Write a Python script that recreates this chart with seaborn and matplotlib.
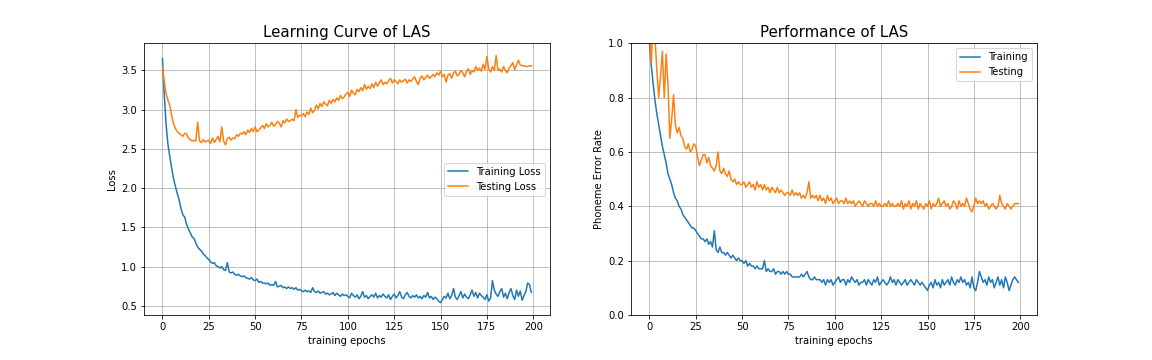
import numpy as np
import pandas as pd
import seaborn as sns
import matplotlib
matplotlib.use("Agg")
import matplotlib.pyplot as plt

# values, one per epoch (0..199)
trn_loss = [
    3.65, 3.18, 2.80, 2.55, 2.40, 2.25, 2.12, 2.02, 1.93, 1.85,
    1.74, 1.66, 1.63, 1.54, 1.48, 1.43, 1.38, 1.36, 1.30, 1.25,
    1.22, 1.20, 1.16, 1.14, 1.11, 1.09, 1.06, 1.04, 1.05, 1.01,
    1.00, 0.98, 1.00, 0.96, 0.95, 1.05, 0.93, 0.92, 0.93, 0.90,
    0.89, 0.90, 0.88, 0.87, 0.88, 0.86, 0.85, 0.84, 0.86, 0.83,
    0.82, 0.84, 0.80, 0.81, 0.79, 0.79, 0.78, 0.79, 0.76, 0.77,
    0.76, 0.81, 0.74, 0.75, 0.76, 0.73, 0.74, 0.72, 0.74, 0.72,
    0.73, 0.71, 0.73, 0.70, 0.71, 0.69, 0.68, 0.70, 0.68, 0.69,
    0.67, 0.73, 0.68, 0.67, 0.69, 0.66, 0.67, 0.68, 0.65, 0.66,
    0.64, 0.65, 0.67, 0.63, 0.66, 0.64, 0.62, 0.65, 0.63, 0.64,
    0.62, 0.60, 0.66, 0.63, 0.61, 0.64, 0.59, 0.62, 0.68, 0.61,
    0.63, 0.59, 0.62, 0.64, 0.61, 0.66, 0.60, 0.63, 0.61, 0.65,
    0.62, 0.60, 0.64, 0.58, 0.62, 0.65, 0.60, 0.63, 0.68, 0.61,
    0.59, 0.64, 0.67, 0.62, 0.60, 0.63, 0.61, 0.64, 0.60, 0.62,
    0.59, 0.63, 0.61, 0.67, 0.60, 0.62, 0.58, 0.61, 0.59, 0.56,
    0.54, 0.58, 0.62, 0.60, 0.66, 0.59, 0.63, 0.72, 0.61, 0.58,
    0.63, 0.68, 0.60, 0.65, 0.61, 0.59, 0.64, 0.70, 0.62, 0.67,
    0.60, 0.66, 0.63, 0.61, 0.58, 0.64, 0.56, 0.60, 0.82, 0.70,
    0.65, 0.62, 0.68, 0.72, 0.61, 0.66, 0.59, 0.67, 0.72, 0.63,
    0.58, 0.70, 0.62, 0.69, 0.57, 0.63, 0.68, 0.79, 0.77, 0.67,
]

tst_loss = [
    3.55, 3.35, 3.20, 3.12, 3.05, 2.92, 2.82, 2.76, 2.72, 2.70,
    2.68, 2.66, 2.70, 2.69, 2.64, 2.62, 2.60, 2.61, 2.60, 2.84,
    2.60, 2.58, 2.62, 2.59, 2.60, 2.61, 2.57, 2.64, 2.58, 2.62,
    2.66, 2.59, 2.78, 2.60, 2.55, 2.63, 2.65, 2.61, 2.64, 2.63,
    2.68, 2.66, 2.70, 2.69, 2.72, 2.68, 2.74, 2.71, 2.76, 2.72,
    2.78, 2.72, 2.74, 2.77, 2.80, 2.76, 2.82, 2.78, 2.80, 2.84,
    2.79, 2.81, 2.85, 2.83, 2.78, 2.86, 2.83, 2.88, 2.85, 2.86,
    2.88, 2.86, 3.00, 2.90, 2.93, 2.92, 2.95, 2.91, 2.97, 2.94,
    3.02, 2.96, 2.99, 3.06, 3.01, 3.08, 3.04, 3.10, 3.07, 3.05,
    3.12, 3.08, 3.13, 3.10, 3.15, 3.12, 3.18, 3.14, 3.16, 3.20,
    3.22, 3.17, 3.25, 3.21, 3.19, 3.26, 3.23, 3.28, 3.24, 3.32,
    3.26, 3.30, 3.27, 3.33, 3.28, 3.35, 3.30, 3.34, 3.38, 3.32,
    3.35, 3.33, 3.37, 3.40, 3.34, 3.38, 3.36, 3.33, 3.38, 3.35,
    3.37, 3.39, 3.34, 3.38, 3.36, 3.39, 3.42, 3.36, 3.32, 3.40,
    3.43, 3.38, 3.41, 3.44, 3.40, 3.42, 3.45, 3.42, 3.47, 3.44,
    3.49, 3.42, 3.45, 3.35, 3.44, 3.46, 3.40, 3.47, 3.49, 3.43,
    3.45, 3.50, 3.47, 3.42, 3.49, 3.52, 3.45, 3.50, 3.48, 3.55,
    3.50, 3.53, 3.49, 3.58, 3.51, 3.68, 3.52, 3.48, 3.55, 3.50,
    3.69, 3.50, 3.52, 3.48, 3.55, 3.50, 3.47, 3.53, 3.56, 3.60,
    3.51, 3.57, 3.63, 3.57, 3.56, 3.56, 3.55, 3.55, 3.56, 3.56,
]

trn_per = [
    1.00, 0.92, 0.85, 0.79, 0.74, 0.70, 0.66, 0.62, 0.59, 0.56,
    0.52, 0.50, 0.48, 0.45, 0.43, 0.42, 0.40, 0.39, 0.37, 0.36,
    0.35, 0.34, 0.33, 0.32, 0.32, 0.31, 0.30, 0.29, 0.28, 0.28,
    0.27, 0.28, 0.26, 0.27, 0.25, 0.31, 0.24, 0.23, 0.25, 0.23,
    0.23, 0.22, 0.23, 0.22, 0.21, 0.22, 0.21, 0.20, 0.21, 0.20,
    0.20, 0.19, 0.20, 0.18, 0.19, 0.18, 0.18, 0.17, 0.18, 0.17,
    0.17, 0.17, 0.20, 0.16, 0.17, 0.16, 0.16, 0.17, 0.15, 0.16,
    0.16, 0.15, 0.16, 0.15, 0.16, 0.15, 0.15, 0.14, 0.14, 0.14,
    0.14, 0.14, 0.15, 0.14, 0.15, 0.16, 0.14, 0.13, 0.13, 0.14,
    0.13, 0.13, 0.13, 0.12, 0.13, 0.11, 0.13, 0.12, 0.13, 0.11,
    0.12, 0.13, 0.14, 0.12, 0.13, 0.13, 0.11, 0.13, 0.12, 0.14,
    0.13, 0.12, 0.13, 0.11, 0.12, 0.12, 0.13, 0.11, 0.13, 0.12,
    0.11, 0.13, 0.12, 0.14, 0.11, 0.12, 0.13, 0.12, 0.11, 0.12,
    0.14, 0.12, 0.13, 0.11, 0.13, 0.12, 0.11, 0.12, 0.13, 0.11,
    0.12, 0.13, 0.12, 0.11, 0.13, 0.12, 0.11, 0.12, 0.11, 0.10,
    0.09, 0.11, 0.12, 0.10, 0.13, 0.11, 0.12, 0.10, 0.13, 0.11,
    0.12, 0.13, 0.11, 0.14, 0.12, 0.11, 0.13, 0.12, 0.14, 0.12,
    0.13, 0.11, 0.12, 0.10, 0.14, 0.10, 0.09, 0.12, 0.16, 0.14,
    0.12, 0.13, 0.11, 0.14, 0.12, 0.13, 0.10, 0.12, 0.14, 0.11,
    0.13, 0.10, 0.14, 0.12, 0.09, 0.11, 0.13, 0.14, 0.13, 0.12,
]

tst_per = [
    1.05, 0.93, 1.08, 1.02, 0.90, 0.80, 0.88, 0.97, 0.80, 0.96,
    0.85, 0.65, 0.72, 0.81, 0.70, 0.67, 0.69, 0.66, 0.65, 0.62,
    0.61, 0.63, 0.60, 0.61, 0.63, 0.62, 0.58, 0.55, 0.57, 0.59,
    0.59, 0.56, 0.58, 0.55, 0.54, 0.53, 0.55, 0.60, 0.53, 0.52,
    0.54, 0.52, 0.51, 0.53, 0.50, 0.49, 0.50, 0.48, 0.49, 0.48,
    0.48, 0.49, 0.47, 0.48, 0.49, 0.47, 0.48, 0.46, 0.49, 0.47,
    0.48, 0.46, 0.48, 0.46, 0.47, 0.45, 0.47, 0.46, 0.45, 0.47,
    0.45, 0.46, 0.45, 0.44, 0.45, 0.45, 0.44, 0.46, 0.44, 0.45,
    0.44, 0.45, 0.43, 0.44, 0.43, 0.45, 0.49, 0.43, 0.44, 0.43,
    0.44, 0.42, 0.44, 0.42, 0.43, 0.41, 0.44, 0.42, 0.43, 0.41,
    0.42, 0.43, 0.41, 0.42, 0.42, 0.41, 0.43, 0.41, 0.42, 0.41,
    0.42, 0.40, 0.41, 0.42, 0.41, 0.40, 0.42, 0.41, 0.40, 0.41,
    0.41, 0.40, 0.42, 0.40, 0.41, 0.40, 0.40, 0.41, 0.40, 0.42,
    0.40, 0.41, 0.40, 0.40, 0.41, 0.40, 0.42, 0.39, 0.41, 0.40,
    0.42, 0.39, 0.41, 0.40, 0.42, 0.39, 0.41, 0.40, 0.39, 0.41,
    0.40, 0.42, 0.39, 0.41, 0.40, 0.41, 0.43, 0.40, 0.41, 0.42,
    0.40, 0.41, 0.39, 0.40, 0.42, 0.41, 0.39, 0.42, 0.40, 0.41,
    0.40, 0.43, 0.41, 0.39, 0.38, 0.40, 0.43, 0.41, 0.42, 0.41,
    0.42, 0.40, 0.41, 0.39, 0.40, 0.41, 0.40, 0.39, 0.40, 0.44,
    0.41, 0.40, 0.39, 0.41, 0.40, 0.39, 0.40, 0.41, 0.41, 0.41,
]

epochs = np.arange(len(trn_loss))

fig, (ax1, ax2) = plt.subplots(1, 2, figsize=(16, 5), dpi=72)
fig.subplots_adjust(bottom=0.125, top=0.88)

# left: loss curves
sns.lineplot(x=epochs, y=trn_loss, color='tab:blue', label='Training Loss', ax=ax1)
sns.lineplot(x=epochs, y=tst_loss, color='tab:orange', label='Testing Loss', ax=ax1)
ax1.set_title('Learning Curve of LAS', fontsize=15)
ax1.set_xlabel('training epochs')
ax1.set_ylabel('Loss')
ax1.legend(loc='center right')
ax1.grid(True)

# right: phoneme error rate
sns.lineplot(x=epochs, y=trn_per, color='tab:blue', label='Training', ax=ax2)
sns.lineplot(x=epochs, y=tst_per, color='tab:orange', label='Testing', ax=ax2)
ax2.set_ylim(0, 1.0)
ax2.set_title('Performance of LAS', fontsize=15)
ax2.set_xlabel('training epochs')
ax2.set_ylabel('Phoneme Error Rate')
ax2.legend(loc='upper right')
ax2.grid(True)

plt.savefig('out.png', dpi=72)
